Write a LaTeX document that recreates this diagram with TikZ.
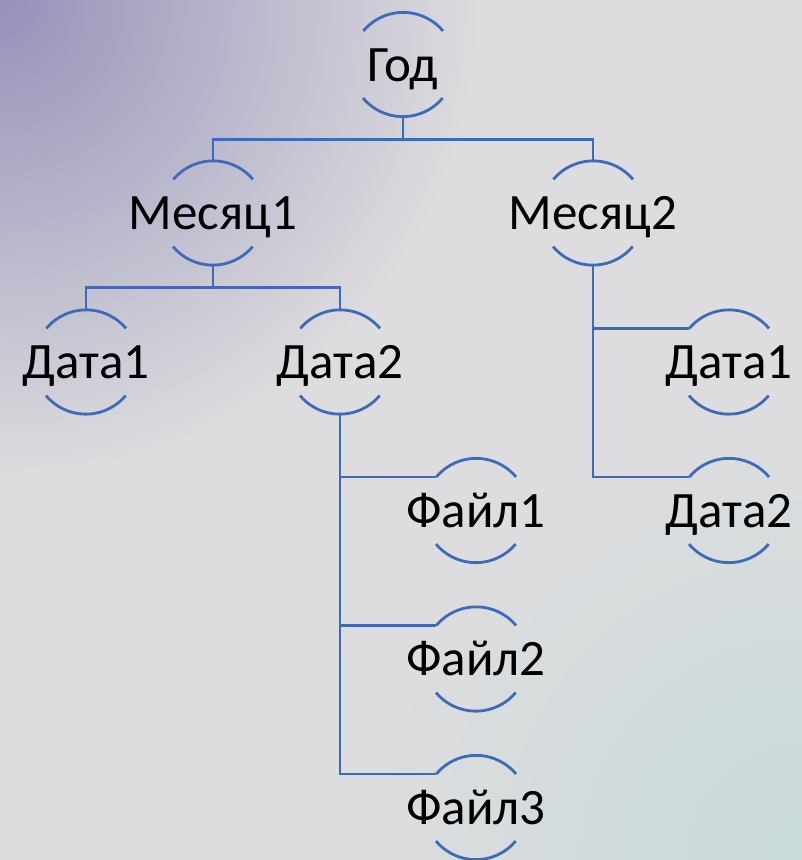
\documentclass[tikz,border=0pt]{standalone}
\usepackage{fontspec}
\setmainfont{Carlito}
\usetikzlibrary{fadings}
\definecolor{bgmid}{RGB}{221,221,223}
\definecolor{bgpurple}{RGB}{150,146,186}
\definecolor{bgteal}{RGB}{200,218,218}
\definecolor{lineblue}{RGB}{62,106,186}
\tikzfading[name=cornerfade, inner color=transparent!0, outer color=transparent!100]
\tikzset{
  ring/.style={circle, minimum size=104bp, inner sep=0pt, draw=none},
  lbl/.style={anchor=base, inner sep=0pt, font=\fontsize{51bp}{60bp}\selectfont, text=black},
  arcline/.style={draw=lineblue, line width=2.8bp},
  conn/.style={draw=lineblue, line width=2.8bp},
}
\begin{document}
\begin{tikzpicture}[x=1bp, y=1bp]
\useasboundingbox (0,0) rectangle (802,-860);
\begin{scope}
\clip (0,0) rectangle (802,-860);
\fill[bgmid] (0,0) rectangle (802,-860);
\fill[bgpurple, path fading=cornerfade] (0,0) circle[radius=480];
\fill[bgteal, path fading=cornerfade] (802,-860) circle[radius=420];
\end{scope}
% rings
\node[ring] (god) at (403,-64.5) {};
\node[ring] (m1) at (213,-213) {};
\node[ring] (m2) at (593,-213) {};
\node[ring] (d1) at (86,-362) {};
\node[ring] (d2) at (340,-362) {};
\node[ring] (r1) at (729,-362) {};
\node[ring] (r2) at (729,-510.5) {};
\node[ring] (f1) at (476,-510.5) {};
\node[ring] (f2) at (476,-659) {};
\node[ring] (f3) at (476,-807.5) {};
\foreach \n in {god,m1,m2,d1,d2,r1,r2,f1,f2,f3}{
  \draw[arcline] (\n.40) arc[start angle=40, end angle=140, radius=52bp];
  \draw[arcline] (\n.220) arc[start angle=220, end angle=320, radius=52bp];
}
% labels
\node[lbl] (godT) at ([yshift=-16.5bp]god.center) {Год};
\node[lbl] (m1T) at ([yshift=-16.5bp]m1.center) {Месяц1};
\node[lbl] (m2T) at ([yshift=-16.5bp]m2.center) {Месяц2};
\node[lbl] (d1T) at ([yshift=-16.5bp]d1.center) {Дата1};
\node[lbl] (d2T) at ([yshift=-16.5bp]d2.center) {Дата2};
\node[lbl] (r1T) at ([yshift=-16.5bp]r1.center) {Дата1};
\node[lbl] (r2T) at ([yshift=-16.5bp]r2.center) {Дата2};
\node[lbl] (f1T) at ([yshift=-16.5bp]f1.center) {Файл1};
\node[lbl] (f2T) at ([yshift=-16.5bp]f2.center) {Файл2};
\node[lbl] (f3T) at ([yshift=-16.5bp]f3.center) {Файл3};
% connectors
\draw[conn] (god.south) -- ++(0,-22.5) -| (m1.north);
\draw[conn] (god.south) -- ++(0,-22.5) -| (m2.north);
\draw[conn] (m1.south) -- ++(0,-22) -| (d1.north);
\draw[conn] (m1.south) -- ++(0,-22) -| (d2.north);
\draw[conn] (m2.south) |- (r1.140);
\draw[conn] (m2.south) |- (r2.140);
\draw[conn] (d2.south) |- (f1.140);
\draw[conn] (d2.south) |- (f2.140);
\draw[conn] (d2.south) |- (f3.140);
\end{tikzpicture}
\end{document}
